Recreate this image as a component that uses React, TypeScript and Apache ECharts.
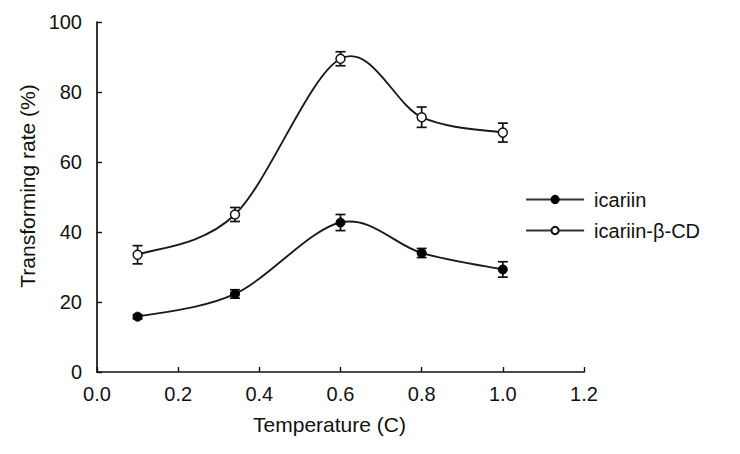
import React, { useEffect, useRef } from "react";
import * as echarts from "echarts";

const temps = [0.1, 0.34, 0.6, 0.8, 1.0];
const icariin = [15.8, 22.3, 42.7, 34.0, 29.3];
const icariinErr = [0.6, 1.2, 2.3, 1.3, 2.2];
const icariinCD = [33.5, 45.0, 89.5, 72.8, 68.4];
const icariinCDErr = [2.6, 2.0, 2.0, 2.9, 2.7];
const seriesNames = ["icariin", "icariin-β-CD"];
const xTicks = { min: 0, max: 1.2, interval: 0.2 };
const yTicks = { min: 0, max: 100, interval: 20 };

const FONT = "Liberation Sans, Arial, sans-serif";
const INK = "#111";

function errData(vals: number[], errs: number[]) {
  return temps.map((t, i) => [t, vals[i] - errs[i], vals[i] + errs[i]]);
}

function errorRender(params: any, api: any) {
  const x = api.value(0);
  const lo = api.coord([x, api.value(1)]);
  const hi = api.coord([x, api.value(2)]);
  const cap = 5;
  const style = { stroke: INK, lineWidth: 1.7 };
  return {
    type: "group",
    children: [
      { type: "line", shape: { x1: lo[0], y1: lo[1], x2: hi[0], y2: hi[1] }, style },
      { type: "line", shape: { x1: lo[0] - cap, y1: lo[1], x2: lo[0] + cap, y2: lo[1] }, style },
      { type: "line", shape: { x1: hi[0] - cap, y1: hi[1], x2: hi[0] + cap, y2: hi[1] }, style },
    ],
  };
}

// Excel-style smoothed curve: one cubic Bezier per segment (Catmull-Rom control points)
function curveRender(vals: number[]) {
  return (params: any, api: any) => {
    const i = params.dataIndex;
    const n = temps.length;
    const P = (k: number) => api.coord([temps[Math.max(0, Math.min(n - 1, k))], vals[Math.max(0, Math.min(n - 1, k))]]);
    const p0 = P(i - 1);
    const p1 = P(i);
    const p2 = P(i + 1);
    const p3 = P(i + 2);
    const k = 1 / 6;
    return {
      type: "bezierCurve",
      shape: {
        x1: p1[0],
        y1: p1[1],
        cpx1: p1[0] + (p2[0] - p0[0]) * k,
        cpy1: p1[1] + (p2[1] - p0[1]) * k,
        cpx2: p2[0] - (p3[0] - p1[0]) * k,
        cpy2: p2[1] - (p3[1] - p1[1]) * k,
        x2: p2[0],
        y2: p2[1],
      },
      style: { stroke: "#1a1a1a", lineWidth: 1.9, fill: "none" },
    };
  };
}

function segData(vals: number[]) {
  return temps.slice(0, -1).map((t, i) => [t, vals[i]]);
}

export default function App() {
  const ref = useRef<HTMLDivElement>(null);
  useEffect(() => {
    if (!ref.current) return;
    const chart = echarts.init(ref.current, null, { renderer: "svg" });
    chart.setOption({
      animation: false,
      backgroundColor: "#ffffff",
      textStyle: { fontFamily: FONT },
      grid: { left: 97, right: 156, top: 22, bottom: 82 },
      graphic: [
        {
          type: "line",
          shape: { x1: 0, y1: 2, x2: 740, y2: 2 },
          style: { stroke: "#222", lineWidth: 2 },
          z: 100,
        },
      ],
      legend: {
        orient: "vertical",
        left: 520,
        top: 184,
        itemWidth: 58,
        itemHeight: 9,
        itemGap: 10,
        lineStyle: { color: "#333", width: 2.2, opacity: 1 },
        textStyle: { fontSize: 20, color: INK, fontFamily: FONT, lineHeight: 21, padding: [0, 0, 0, 5] },
        data: seriesNames,
      },
      xAxis: {
        type: "value",
        min: xTicks.min,
        max: xTicks.max,
        interval: xTicks.interval,
        name: "Temperature (C)",
        nameLocation: "middle",
        nameGap: 42,
        nameTextStyle: { fontSize: 21, color: INK, fontFamily: FONT, padding: [0, 22, 0, 0] },
        axisLine: { lineStyle: { color: INK, width: 1.7 } },
        axisTick: { inside: true, length: 5, lineStyle: { color: INK, width: 1.4 } },
        axisLabel: {
          fontSize: 20,
          color: INK,
          margin: 12,
          fontFamily: FONT,
          formatter: (v: number) => v.toFixed(1),
        },
        splitLine: { show: false },
      },
      yAxis: {
        type: "value",
        min: yTicks.min,
        max: yTicks.max,
        interval: yTicks.interval,
        name: "Transforming rate (%)",
        nameLocation: "middle",
        nameGap: 55,
        nameTextStyle: { fontSize: 21, color: INK, fontFamily: FONT, padding: [0, 0, 0, 22] },
        axisLine: { show: true, lineStyle: { color: INK, width: 1.7 } },
        axisTick: { show: true, inside: true, length: 5, lineStyle: { color: INK, width: 1.4 } },
        axisLabel: { fontSize: 20, color: INK, margin: 15, fontFamily: FONT },
        splitLine: { show: false },
      },
      series: [
        {
          type: "custom",
          name: "icariin-curve",
          renderItem: curveRender(icariin),
          data: segData(icariin),
          z: 2,
          silent: true,
        },
        {
          type: "custom",
          name: "icariinCD-curve",
          renderItem: curveRender(icariinCD),
          data: segData(icariinCD),
          z: 2,
          silent: true,
        },
        {
          type: "custom",
          name: "icariin-err",
          renderItem: errorRender,
          data: errData(icariin, icariinErr),
          z: 3,
          silent: true,
        },
        {
          type: "custom",
          name: "icariinCD-err",
          renderItem: errorRender,
          data: errData(icariinCD, icariinCDErr),
          z: 3,
          silent: true,
        },
        {
          type: "line",
          name: seriesNames[0],
          data: temps.map((t, i) => [t, icariin[i]]),
          symbol: "circle",
          symbolSize: 9,
          lineStyle: { color: "#333", width: 2, opacity: 0 },
          itemStyle: { color: "#000", borderColor: "#000", borderWidth: 1 },
          z: 4,
        },
        {
          type: "line",
          name: seriesNames[1],
          data: temps.map((t, i) => [t, icariinCD[i]]),
          symbol: "circle",
          symbolSize: 9,
          lineStyle: { color: "#333", width: 2, opacity: 0 },
          itemStyle: { color: "#fff", borderColor: INK, borderWidth: 1.5 },
          z: 4,
        },
      ],
    });
    return () => chart.dispose();
  }, []);
  return <div ref={ref} style={{ width: 740, height: 454, margin: -8 }} />;
}
